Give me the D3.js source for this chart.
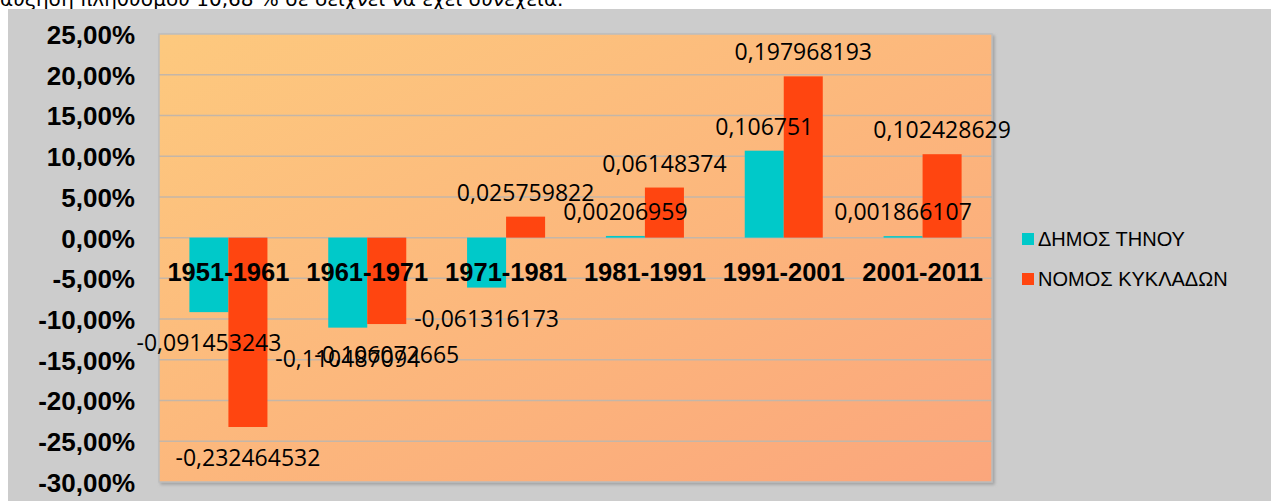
<!DOCTYPE html>
<html>
<head>
<meta charset="utf-8">
<script src="https://cdn.jsdelivr.net/npm/d3@7/dist/d3.min.js"></script>
<style>
  html, body { margin: 0; padding: 0; background: #ffffff; overflow: hidden; }
  svg { display: block; }
</style>
</head>
<body>
<svg id="chart" width="1271" height="501"></svg>
<script>
// ---- data ----
const categories = ["1951-1961", "1961-1971", "1971-1981", "1981-1991", "1991-2001", "2001-2011"];
const seriesNames = ["ΔΗΜΟΣ ΤΗΝΟΥ", "ΝΟΜΟΣ ΚΥΚΛΑΔΩΝ"];
const tinosValues = [-0.091453243, -0.110487094, -0.061316173, 0.00206959, 0.106751, 0.001866107];
const cycladesValues = [-0.232464532, -0.106072665, 0.025759822, 0.06148374, 0.197968193, 0.102428629];
const tickValues = [0.25, 0.20, 0.15, 0.10, 0.05, 0, -0.05, -0.10, -0.15, -0.20, -0.25, -0.30];
const seriesColors = ["#00c9c9", "#ff4510"];
const topText = "αύξηση πληθυσμού 10,68 % σε δείχνει να έχει συνέχεια.";

const series = [tinosValues, cycladesValues];

const svg = d3.select("#chart");

// top clipped text (document paragraph above the chart)
svg.append("text").attr("x", 0).attr("y", 6)
  .attr("font-family", "DejaVu Sans").attr("font-size", 20).attr("fill", "#000")
  .text(topText);

// chart background
svg.append("rect").attr("x", 8).attr("y", 9).attr("width", 1263).attr("height", 492).attr("fill", "#cccccc");

const plot = { left: 159, right: 992, top: 34, bottom: 482 };

const y = d3.scaleLinear().domain([-0.30, 0.25]).range([plot.bottom, plot.top]);
const x = d3.scaleBand().domain(categories).range([plot.left, plot.right])
  .paddingInner(0.438).paddingOuter(0.219);
const xs = d3.scaleBand().domain(seriesNames).range([0, x.bandwidth()]);

// gradient
const defs = svg.append("defs");
const grad = defs.append("linearGradient").attr("id", "bg").attr("x1", "0%").attr("y1", "0%").attr("x2", "100%").attr("y2", "100%");
grad.append("stop").attr("offset", "0%").attr("stop-color", "#fdc97e");
grad.append("stop").attr("offset", "100%").attr("stop-color", "#fba67b");
const shadow = defs.append("filter").attr("id", "sh").attr("x", "-5%").attr("y", "-5%").attr("width", "110%").attr("height", "110%");
shadow.append("feDropShadow").attr("dx", 2).attr("dy", 2).attr("stdDeviation", 1.5).attr("flood-color", "#888").attr("flood-opacity", 0.6);

svg.append("rect").attr("x", plot.left).attr("y", plot.top)
  .attr("width", plot.right - plot.left).attr("height", plot.bottom - plot.top)
  .attr("fill", "url(#bg)").attr("stroke", "#bdbdbd").attr("stroke-width", 1.5)
  .attr("filter", "url(#sh)");

// gridlines
svg.append("g").selectAll("line").data(tickValues.filter(t => t !== 0.25 && t !== -0.30)).join("line")
  .attr("x1", plot.left).attr("x2", plot.right)
  .attr("y1", d => y(d)).attr("y2", d => y(d))
  .attr("stroke", "#c4b6a8").attr("stroke-width", 1.5);

// y axis labels
const fmt = v => (Math.round(v * 10000) / 100).toFixed(2).replace(".", ",") + "%";
const yAxis = d3.axisLeft(y).tickValues(tickValues).tickSize(0).tickPadding(0).tickFormat(fmt);
const yg = svg.append("g").attr("transform", "translate(135,0)").call(yAxis);
yg.select(".domain").remove();
yg.selectAll("text").attr("font-family", "Liberation Sans, Arial, sans-serif")
  .attr("font-size", 26).attr("font-weight", "bold").attr("fill", "#000")
  .attr("dy", "0.36em");

// bars
const groups = svg.append("g").selectAll("g").data(categories).join("g")
  .attr("transform", d => `translate(${x(d)},0)`);
groups.selectAll("rect").data((c, i) => series.map((s, k) => ({ name: seriesNames[k], v: s[i], k })))
  .join("rect")
  .attr("x", d => xs(d.name)).attr("width", xs.bandwidth())
  .attr("y", d => Math.min(y(d.v), y(0)))
  .attr("height", d => Math.abs(y(d.v) - y(0)))
  .attr("fill", d => seriesColors[d.k]);

// category labels
svg.append("g").selectAll("text").data(categories).join("text")
  .attr("x", d => x(d) + x.bandwidth() / 2).attr("y", 272)
  .attr("text-anchor", "middle").attr("dominant-baseline", "central")
  .attr("font-family", "Liberation Sans, Arial, sans-serif").attr("font-size", 25.5)
  .attr("font-weight", "bold").attr("fill", "#000")
  .text(d => d);

// data labels
const fmtLabel = v => String(v).replace(".", ",");
groups.selectAll("text.dl").data((c, i) => series.map((s, k) => ({ name: seriesNames[k], v: s[i], k })))
  .join("text").attr("class", "dl")
  .attr("x", d => xs(d.name) + xs.bandwidth() / 2)
  .attr("y", d => d.v >= 0 ? y(d.v) - 25 : y(d.v) + 30)
  .attr("text-anchor", "middle").attr("dominant-baseline", "central")
  .attr("font-family", "Open Sans, sans-serif").attr("font-size", 23).attr("fill", "#000")
  .text(d => fmtLabel(d.v));

// legend
const lg = svg.append("g").selectAll("g").data(seriesNames).join("g")
  .attr("transform", (d, i) => `translate(1022,${233 + i * 40})`);
lg.append("rect").attr("width", 12).attr("height", 12).attr("fill", (d, i) => seriesColors[i]);
lg.append("text").attr("x", 16).attr("y", 6).attr("dominant-baseline", "central")
  .attr("font-family", "Liberation Sans, Arial, sans-serif").attr("font-size", 20).attr("fill", "#000")
  .text(d => d);
</script>
</body>
</html>
